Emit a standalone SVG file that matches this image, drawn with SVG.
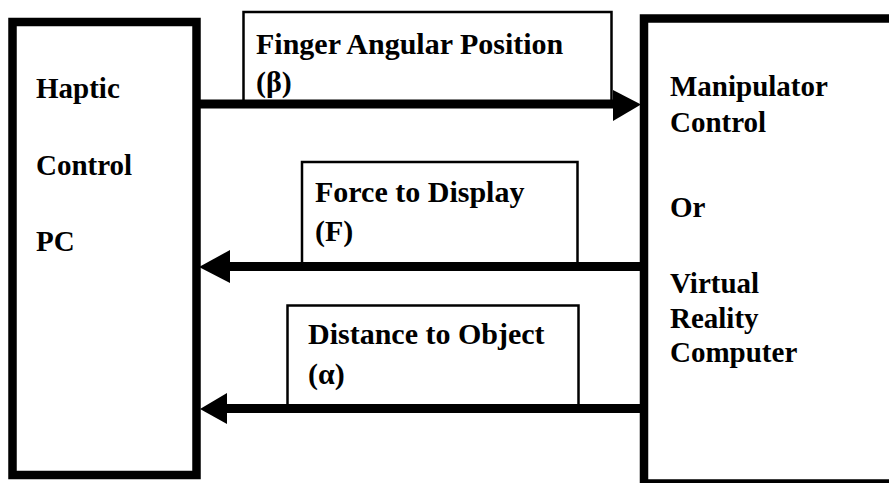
<svg xmlns="http://www.w3.org/2000/svg" width="889" height="483" viewBox="0 0 889 483">
<style>
.node{fill:#fff;stroke:#000;stroke-width:8.5}
.lbl{fill:#fff;stroke:#000;stroke-width:2.5}
.t{font-family:"Liberation Serif","Times New Roman",serif;font-weight:bold;fill:#000}
.n{font-size:29px}
.l{font-size:30px}
.conn{stroke:#000;stroke-width:9;fill:none}
.head{fill:#000}
</style>
<rect width="889" height="483" fill="#fff"/>
<g id="haptic-pc">
<rect class="node" x="12.5" y="22" width="184" height="453"/>
<text class="t n" x="36" y="98">Haptic</text>
<text class="t n" x="36" y="175">Control</text>
<text class="t n" x="36" y="251">PC</text>
</g>
<g id="manipulator">
<rect class="node" x="644" y="18.5" width="260" height="465"/>
<text class="t n" x="670" y="96">Manipulator</text>
<text class="t n" x="670" y="132">Control</text>
<text class="t n" x="670" y="217">Or</text>
<text class="t n" x="670" y="293">Virtual</text>
<text class="t n" x="670" y="328">Reality</text>
<text class="t n" x="670" y="362">Computer</text>
</g>
<g id="connectors">
<rect class="lbl" x="243.5" y="12" width="368" height="92"/>
<rect class="lbl" x="302" y="162" width="275.5" height="104"/>
<rect class="lbl" x="287.5" y="305.5" width="291" height="103"/>
<line class="conn" x1="200" y1="104" x2="616" y2="104"/>
<polygon class="head" points="613,90 641,104.5 613,121"/>
<line class="conn" x1="640" y1="266.5" x2="228" y2="266.5"/>
<polygon class="head" points="199,267 230,250 230,283"/>
<line class="conn" x1="640" y1="408.5" x2="224" y2="408.5"/>
<polygon class="head" points="200,409 227,393 227,424"/>
</g>
<g id="labels">
<text class="t l" x="256" y="54">Finger Angular Position</text>
<text class="t l" x="256" y="92">(β)</text>
<text class="t l" x="315" y="202">Force to Display</text>
<text class="t l" x="315" y="241">(F)</text>
<text class="t l" x="308" y="344">Distance to Object</text>
<text class="t l" x="308" y="384">(α)</text>
</g>
</svg>
